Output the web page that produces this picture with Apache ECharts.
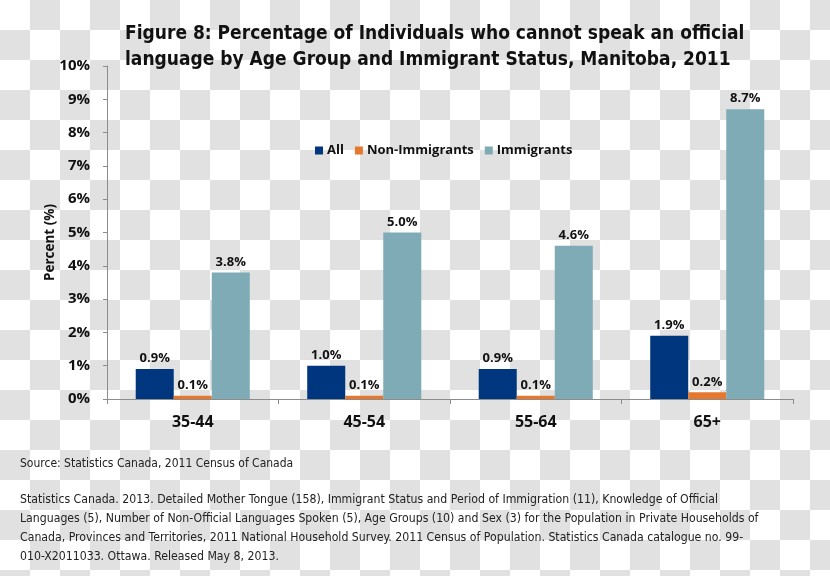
<!DOCTYPE html>
<html>
<head>
<meta charset="utf-8">
<script src="https://cdn.jsdelivr.net/npm/echarts@6/dist/echarts.min.js"></script>
<style>
  html, body { margin: 0; padding: 0; }
  body {
    width: 830px; height: 576px;
    background: repeating-conic-gradient(#e1e1e1 0 25%, #ffffff 0 50%) 0 0 / 60px 60px;
  }
  #chart { width: 830px; height: 576px; }
</style>
</head>
<body>
<div id="chart"></div>
<script>
const categories = ['35-44', '45-54', '55-64', '65+'];
const seriesNames = ['All', 'Non-Immigrants', 'Immigrants'];
const allValues = [0.9, 1.0, 0.9, 1.9];
const nonImmigrantValues = [0.1, 0.1, 0.1, 0.2];
const immigrantValues = [3.8, 5.0, 4.6, 8.7];
const yTicks = { min: 0, max: 10, interval: 1 };
const titleLines = ['Figure 8: Percentage of Individuals who cannot speak an official',
                    'language by Age Group and Immigrant Status, Manitoba, 2011'];
const sourceText = 'Source: Statistics Canada, 2011 Census of Canada';
const citationLines = [
  'Statistics Canada. 2013. Detailed Mother Tongue (158), Immigrant Status and Period of Immigration (11), Knowledge of Official',
  'Languages (5), Number of Non-Official Languages Spoken (5), Age Groups (10) and Sex (3) for the Population in Private Households of',
  'Canada, Provinces and Territories, 2011 National Household Survey. 2011 Census of Population. Statistics Canada catalogue no. 99-',
  '010-X2011033. Ottawa. Released May 8, 2013.'
];

const colors = ['#00367e', '#e5782e', '#7eabb6'];
const narrow = "'DejaVu Sans Condensed', 'Liberation Sans Narrow', sans-serif";
const bold = "'Open Sans', sans-serif";

const chart = echarts.init(document.getElementById('chart'), null, { renderer: 'canvas' });

const labelCfg = {
  show: true, position: 'top', distance: 4,
  formatter: p => p.value.toFixed(1) + '%',
  fontFamily: bold, fontWeight: 'bold', fontSize: 13, color: '#111'
};

const valueSets = [allValues, nonImmigrantValues, immigrantValues];

chart.setOption({
  backgroundColor: 'transparent',
  animation: false,
  color: colors,
  title: [
    {
      text: titleLines.join('\n'), left: 125, top: 21, padding: 0,
      textStyle: { fontFamily: narrow, fontWeight: 'bold', fontSize: 19, lineHeight: 26, color: '#111' }
    },
    {
      text: sourceText, left: 20, top: 458, padding: 0,
      textStyle: { fontFamily: narrow, fontWeight: 'normal', fontSize: 12, color: '#222' }
    },
    {
      text: citationLines.join('\n'), left: 20, top: 490, padding: 0,
      textStyle: { fontFamily: narrow, fontWeight: 'normal', fontSize: 12.2, lineHeight: 19, color: '#222' }
    }
  ],
  legend: {
    data: seriesNames, top: 144, left: 315, padding: 0,
    icon: 'rect', itemWidth: 8, itemHeight: 8, itemGap: 11,
    textStyle: { fontFamily: bold, fontWeight: 'bold', fontSize: 13, color: '#111', padding: [0, 0, 0, -1] }
  },
  grid: { left: 107, right: 37, top: 66, bottom: 177, containLabel: false },
  xAxis: {
    type: 'category', data: categories,
    axisLine: { show: true, lineStyle: { color: '#8c8c8c', width: 1 } },
    axisTick: { show: true, alignWithLabel: false, length: 5, lineStyle: { color: '#8c8c8c' } },
    axisLabel: { margin: 15, fontFamily: bold, fontWeight: 'bold', fontSize: 16, color: '#111' }
  },
  yAxis: {
    type: 'value', min: yTicks.min, max: yTicks.max, interval: yTicks.interval,
    name: 'Percent (%)', nameLocation: 'middle', nameGap: 50, nameRotate: 90,
    nameMoveOverlap: false,
    nameTextStyle: { fontFamily: bold, fontWeight: 'bold', fontSize: 13.5, color: '#111', padding: [0, 20, 0, 0] },
    axisLine: { show: true, lineStyle: { color: '#8c8c8c', width: 1 } },
    axisTick: { show: true, inside: false, length: 4, lineStyle: { color: '#8c8c8c' } },
    splitLine: { show: false },
    axisLabel: { margin: 17, formatter: '{value}%', fontFamily: bold, fontWeight: 'bold', fontSize: 15, color: '#111' }
  },
  series: seriesNames.map((name, i) => ({
    name, type: 'bar', data: valueSets[i],
    barGap: '0%', barCategoryGap: '33.5%',
    label: labelCfg
  }))
});
</script>
</body>
</html>
